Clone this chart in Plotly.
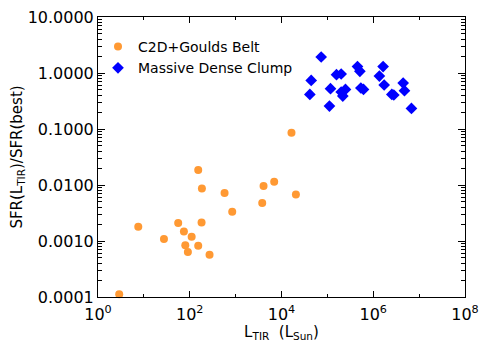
import plotly.graph_objects as go

# C2D + Goulds Belt (orange circles)
c2d_ltir = [2.9, 7.55, 27.4, 56, 74.6, 80, 91, 110, 153, 153, 184, 181, 270,
            574, 843, 3800, 4060, 6930, 16500, 20600]
c2d_ratio = [1.12e-4, 1.8e-3, 1.09e-3, 2.1e-3, 1.48e-3, 8.4e-4, 6.35e-4, 1.19e-3,
             0.0185, 8.2e-4, 0.0087, 2.15e-3, 5.7e-4, 0.0072, 3.33e-3, 4.77e-3,
             0.0096, 0.01146, 0.086, 0.0068]

# Massive Dense Clump (blue diamonds)
mdc_ltir = [41500, 44400, 73300, 111000, 117000, 158000, 200000, 200000, 217000,
            248000, 453000, 511000, 537000, 613000, 1.36e6, 1.64e6, 1.73e6,
            2.54e6, 2.81e6, 4.49e6, 4.79e6, 6.8e6]
mdc_ratio = [0.415, 0.738, 1.93, 0.257, 0.525, 0.933, 0.96, 0.458, 0.388, 0.51,
             1.30, 1.07, 0.54, 0.51, 0.883, 1.30, 0.61, 0.415, 0.405, 0.66,
             0.483, 0.233]

x_tickvals = [1, 1e2, 1e4, 1e6, 1e8]
x_ticktext = ["10<sup>0</sup>", "10<sup>2</sup>", "10<sup>4</sup>", "10<sup>6</sup>", "10<sup>8</sup>"]
x_minor = [10, 1e3, 1e5, 1e7]
y_tickvals = [1e-4, 1e-3, 1e-2, 1e-1, 1, 10]
y_ticktext = ["0.0001", "0.0010", "0.0100", "0.1000", "1.0000", "10.0000"]
y_minor = [m * 10.0 ** e for e in range(-4, 1) for m in range(2, 10)]

FONT = "DejaVu Sans"

fig = go.Figure()
fig.add_trace(go.Scatter(x=c2d_ltir, y=c2d_ratio, mode="markers", name="C2D+Goulds Belt",
                         marker=dict(symbol="circle", size=8, color="#FF9933"),
                         cliponaxis=False))
fig.add_trace(go.Scatter(x=mdc_ltir, y=mdc_ratio, mode="markers", name="Massive Dense Clump",
                         marker=dict(symbol="diamond", size=9, color="#0000FF"),
                         cliponaxis=False))

axis_common = dict(showline=True, linecolor="black", linewidth=1, mirror="allticks",
                   ticks="inside", tickcolor="black", showgrid=False, zeroline=False,
                   automargin=False, ticklabeloverflow="allow",
                   tickfont=dict(family=FONT, size=16, color="black"))

fig.update_xaxes(type="log", range=[0, 8], tickmode="array", tickvals=x_tickvals,
                 ticktext=x_ticktext, ticklen=6, ticklabelstandoff=3,
                 minor=dict(tickmode="array", tickvals=x_minor, ticklen=3, ticks="inside",
                            tickcolor="black", showgrid=False),
                 title=dict(text="L<sub>TIR</sub>  (L<sub>Sun</sub>)",
                            font=dict(family=FONT, size=15, color="black"), standoff=2),
                 **axis_common)
fig.update_yaxes(type="log", range=[-4, 1], tickmode="array", tickvals=y_tickvals,
                 ticktext=y_ticktext, ticklen=7,
                 minor=dict(tickmode="array", tickvals=y_minor, ticklen=4, ticks="inside",
                            tickcolor="black", showgrid=False),
                 title=dict(text="SFR(L<sub>TIR</sub>)/SFR(best)",
                            font=dict(family=FONT, size=15, color="black"), standoff=11),
                 **axis_common)

fig.update_layout(
    width=474, height=334,
    margin=dict(l=90, r=17, t=9, b=45),
    paper_bgcolor="white", plot_bgcolor="white",
    font=dict(family=FONT, size=14, color="black"),
    showlegend=True,
    legend=dict(x=0.0, y=0.95, xanchor="left", yanchor="top",
                bgcolor="rgba(0,0,0,0)", borderwidth=0,
                font=dict(family=FONT, size=14, color="black"),
                itemwidth=30, tracegroupgap=0),
)

fig.write_html("out.html")
